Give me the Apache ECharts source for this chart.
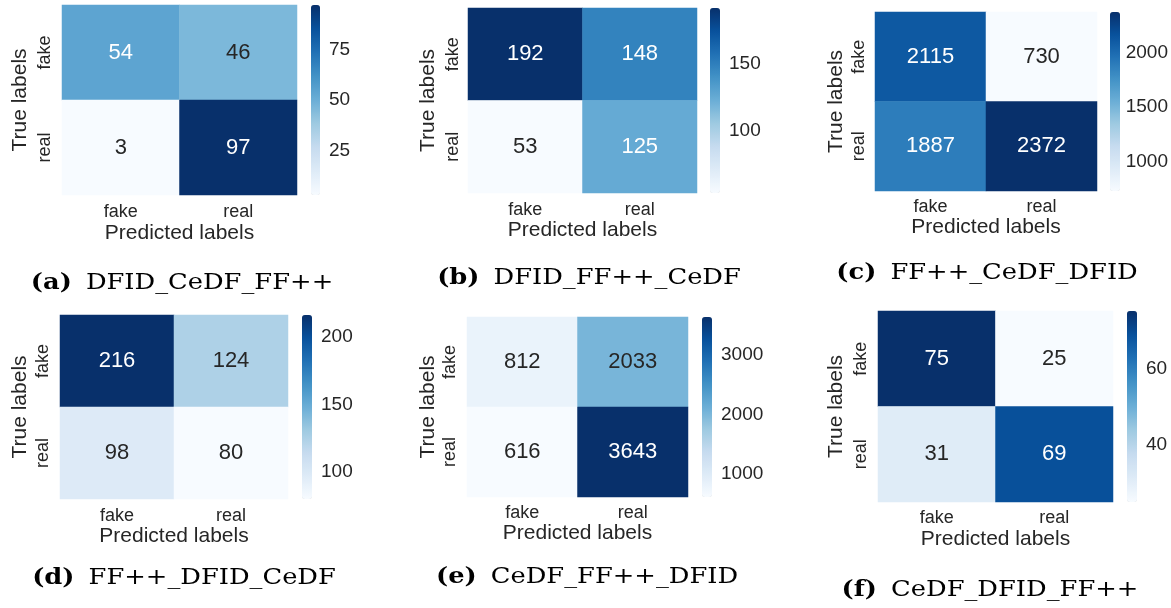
<!DOCTYPE html>
<html><head><meta charset="utf-8">
<script src="https://cdn.jsdelivr.net/npm/echarts@6/dist/echarts.min.js"></script>
<style>html,body{margin:0;padding:0;background:#fff}#c{width:1171px;height:608px}</style>
</head><body><div id="c"></div>
<script>
// ---- data ----
const predictedCategories = ['fake', 'real'];
const trueCategories = ['fake', 'real'];
const captionLetters = ['(a)', '(b)', '(c)', '(d)', '(e)', '(f)'];
const captionNames = ['DFID_CeDF_FF++', 'DFID_FF++_CeDF', 'FF++_CeDF_DFID', 'FF++_DFID_CeDF', 'CeDF_FF++_DFID', 'CeDF_DFID_FF++'];
// rows = true label (fake, real); columns = predicted label (fake, real)
const matrixA = [[54, 46], [3, 97]];
const matrixB = [[192, 148], [53, 125]];
const matrixC = [[2115, 730], [1887, 2372]];
const matrixD = [[216, 124], [98, 80]];
const matrixE = [[812, 2033], [616, 3643]];
const matrixF = [[75, 25], [31, 69]];
const colorbarTicksA = [25, 50, 75];
const colorbarTicksB = [100, 150];
const colorbarTicksC = [1000, 1500, 2000];
const colorbarTicksD = [100, 150, 200];
const colorbarTicksE = [1000, 2000, 3000];
const colorbarTicksF = [40, 60];

const matrices = [matrixA, matrixB, matrixC, matrixD, matrixE, matrixF];
const colorbarTicks = [colorbarTicksA, colorbarTicksB, colorbarTicksC, colorbarTicksD, colorbarTicksE, colorbarTicksF];

// ---- layout (pixel boxes of each panel) ----
const layout = [
  {hx0: 62,  hx1: 297,  hy0: 5,   hy1: 195, cb0: 311,  cb1: 320,  yLab: 44,  yName: 19,  xLab: 212, xName: 234, capX: 182, capY: 283},
  {hx0: 468, hx1: 697,  hy0: 8,   hy1: 193, cb0: 710,  cb1: 720,  yLab: 452, yName: 427, xLab: 210, xName: 231, capX: 589, capY: 278},
  {hx0: 875, hx1: 1097, hy0: 12,  hy1: 191, cb0: 1110, cb1: 1120, yLab: 858, yName: 835, xLab: 207, xName: 228, capX: 987, capY: 273},
  {hx0: 60,  hx1: 288,  hy0: 315, hy1: 499, cb0: 302,  cb1: 312,  yLab: 42,  yName: 19,  xLab: 516, xName: 537, capX: 184, capY: 578},
  {hx0: 467, hx1: 688,  hy0: 317, hy1: 497, cb0: 702,  cb1: 712,  yLab: 449, yName: 427, xLab: 513, xName: 534, capX: 587, capY: 577},
  {hx0: 878, hx1: 1113, hy0: 311, hy1: 502, cb0: 1127, cb1: 1137, yLab: 860, yName: 835, xLab: 518, xName: 540, capX: 990, capY: 590}
];

const BLUES = ['#f7fbff', '#deebf7', '#c6dbef', '#9ecae1', '#6baed6', '#4292c6', '#2171b5', '#08519c', '#08306b'];
const SANS = '"Liberation Sans", Arial, Helvetica, sans-serif';
const SERIF = '"DejaVu Serif", "Liberation Serif", serif';
const DARK = '#262626';
const TICK_FS = 18, NAME_FS = 21, CELL_FS = 22, CB_FS = 19, CAP_FS = 22, CAP_SX = 1.17;

function hexToRgb(h) { return [1, 3, 5].map(i => parseInt(h.substr(i, 2), 16)); }
function bluesAt(t) {
  t = Math.max(0, Math.min(1, t));
  const p = t * (BLUES.length - 1);
  const i = Math.min(Math.floor(p), BLUES.length - 2);
  const f = p - i;
  const a = hexToRgb(BLUES[i]), b = hexToRgb(BLUES[i + 1]);
  return a.map((v, k) => v + (b[k] - v) * f);
}
function luminance(rgb) {
  const lin = rgb.map(v => { v /= 255; return v <= 0.03928 ? v / 12.92 : Math.pow((v + 0.055) / 1.055, 2.4); });
  return 0.2126 * lin[0] + 0.7152 * lin[1] + 0.0722 * lin[2];
}

const option = {
  backgroundColor: '#fff',
  animation: false,
  grid: [], xAxis: [], yAxis: [], visualMap: [], series: [], graphic: []
};

matrices.forEach((m, p) => {
  const L = layout[p];
  const flat = m.flat();
  const vmin = Math.min(...flat), vmax = Math.max(...flat);
  const hw = L.hx1 - L.hx0, hh = L.hy1 - L.hy0;
  option.grid.push({left: L.hx0, top: L.hy0, width: hw, height: hh, containLabel: false});
  option.grid.push({left: L.cb0, top: L.hy0, width: L.cb1 - L.cb0, height: hh, containLabel: false});
  const gH = 2 * p, gC = 2 * p + 1;
  option.xAxis.push({
    type: 'category', gridIndex: gH, data: predictedCategories,
    axisLine: {show: false}, axisTick: {show: false}, splitLine: {show: false},
    axisLabel: {color: DARK, fontSize: TICK_FS, fontFamily: SANS, margin: L.xLab - L.hy1 - 9},
    name: 'Predicted labels', nameLocation: 'middle', nameGap: L.xName - L.hy1 - 11,
    nameTextStyle: {color: DARK, fontSize: NAME_FS, fontFamily: SANS}
  });
  option.yAxis.push({
    type: 'category', gridIndex: gH, data: trueCategories, inverse: true,
    axisLine: {show: false}, axisTick: {show: false}, splitLine: {show: false},
    axisLabel: {color: DARK, fontSize: TICK_FS, fontFamily: SANS, rotate: 90, margin: L.hx0 - L.yLab - 10},
    name: 'True labels', nameLocation: 'middle', nameRotate: 90, nameGap: L.hx0 - L.yName - 12,
    nameTextStyle: {color: DARK, fontSize: NAME_FS, fontFamily: SANS}
  });
  option.xAxis.push({type: 'value', gridIndex: gC, show: false, min: 0, max: 1});
  option.yAxis.push({
    type: 'value', gridIndex: gC, position: 'right', min: vmin, max: vmax,
    axisLine: {show: false}, splitLine: {show: false},
    axisTick: {show: true, length: 5, inside: false, customValues: colorbarTicks[p], lineStyle: {color: DARK, width: 1}},
    axisLabel: {show: true, customValues: colorbarTicks[p], color: DARK, fontSize: CB_FS, fontFamily: SANS, margin: 9,
      formatter: v => String(v)}
  });
  option.visualMap.push({
    type: 'continuous', seriesIndex: p, min: vmin, max: vmax, orient: 'vertical',
    left: L.cb0, top: L.hy0, itemWidth: L.cb1 - L.cb0, itemHeight: hh, padding: 0,
    calculable: false, text: null, showLabel: false, realtime: false, hoverLink: false,
    inRange: {color: BLUES}
  });
  const data = [];
  m.forEach((row, r) => row.forEach((v, c) => {
    const lum = luminance(bluesAt((v - vmin) / (vmax - vmin)));
    data.push({value: [c, r, v], label: {color: lum > 0.408 ? DARK : '#ffffff'}});
  }));
  option.series.push({
    type: 'heatmap', xAxisIndex: gH, yAxisIndex: gH, data: data,
    label: {show: true, fontSize: CELL_FS, fontFamily: SANS},
    itemStyle: {borderWidth: 0},
    emphasis: {disabled: true}
  });
  option.graphic.push({
    type: 'text', x: L.capX, y: L.capY, scaleX: CAP_SX, scaleY: 1, silent: true,
    style: {
      text: '{b|' + captionLetters[p] + '}' + captionNames[p],
      fontFamily: SERIF, fontSize: CAP_FS, fill: '#000', align: 'center', verticalAlign: 'middle',
      rich: {b: {fontFamily: SERIF, fontSize: CAP_FS, fontWeight: 'bold', fill: '#000', padding: [0, 12, 0, 0]}}
    }
  });
});

const chart = echarts.init(document.getElementById('c'), null, {renderer: 'canvas'});
chart.setOption(option);
</script>
</body></html>
